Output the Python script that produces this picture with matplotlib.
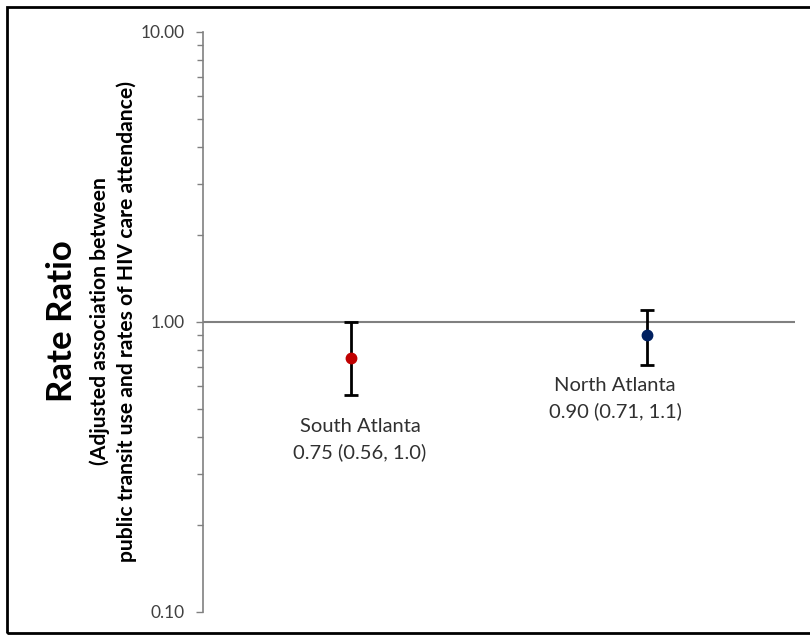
import matplotlib
matplotlib.use("Agg")
import matplotlib.pyplot as plt
from matplotlib.patches import Rectangle
from matplotlib.ticker import FixedLocator, NullFormatter

# data
regions = ["South Atlanta", "North Atlanta"]
rate_ratio = [0.75, 0.90]
ci_low = [0.56, 0.71]
ci_high = [1.0, 1.1]
point_colors = ["#c00000", "#002060"]
label_text = ["South Atlanta\n0.75 (0.56, 1.0)", "North Atlanta\n0.90 (0.71, 1.1)"]
label_y = [0.468, 0.648]
label_dx = [0.03, -0.108]
y_ticks = [0.1, 1.0, 10.0]
y_ticklabels = ["0.10", "1.00", "10.00"]

plt.rcParams['font.family'] = ['Lato', 'DejaVu Sans']

fig = plt.figure(figsize=(8.1, 6.35), dpi=100)
ax = fig.add_axes([203/810, 1 - 612/635, 592/810, 580/635])

xpos = [1, 2]
ax.axhline(1.0, color="#808080", lw=1.5, zorder=1)
for i in range(len(regions)):
    ax.errorbar(xpos[i], rate_ratio[i],
                yerr=[[rate_ratio[i] - ci_low[i]], [ci_high[i] - rate_ratio[i]]],
                fmt="none", ecolor="black", elinewidth=2, capsize=5, capthick=2, zorder=2)
    ax.plot(xpos[i], rate_ratio[i], "o", color=point_colors[i], ms=7.5, zorder=3)
    ax.text(xpos[i] + label_dx[i], label_y[i], label_text[i], ha="center", va="top",
            fontsize=14.5, color="#303030", linespacing=1.55)

ax.set_yscale("log")
ax.set_ylim(0.1, 10)
ax.set_xlim(0.5, 2.5)
ax.yaxis.set_major_locator(FixedLocator(y_ticks))
ax.set_yticklabels(y_ticklabels)
minor = [m * d for d in (0.1, 1.0) for m in range(2, 10)]
ax.yaxis.set_minor_locator(FixedLocator(minor))
ax.yaxis.set_minor_formatter(NullFormatter())
ax.tick_params(axis="y", which="major", direction="out", length=5, width=1,
               color="#808080", labelsize=12.5, labelcolor="#404040", pad=8.5)
ax.tick_params(axis="y", which="minor", direction="out", length=4, width=1, color="#808080")
ax.set_xticks([])
for side in ("top", "right", "bottom"):
    ax.spines[side].set_visible(False)
ax.spines["left"].set_color("#808080")
ax.spines["left"].set_linewidth(1.2)

fig.text(62/810, 1 - 321/635, "Rate Ratio", rotation=90, ha="center", va="center",
         fontsize=25, fontweight="bold", color="black")
fig.text(113/810, 1 - 321/635,
         "(Adjusted association between\npublic transit use and rates of HIV care attendance)",
         rotation=90, ha="center", va="center", fontsize=15.2, fontweight="bold",
         color="black", linespacing=1.38, multialignment="center")

# frame around the whole chart
fig.patches.append(Rectangle((7/810, 1 - 633/635), 810/810, 626/635, transform=fig.transFigure,
                             fill=False, edgecolor="black", lw=2, zorder=0))

fig.savefig("out.png", dpi=100, facecolor="white")
